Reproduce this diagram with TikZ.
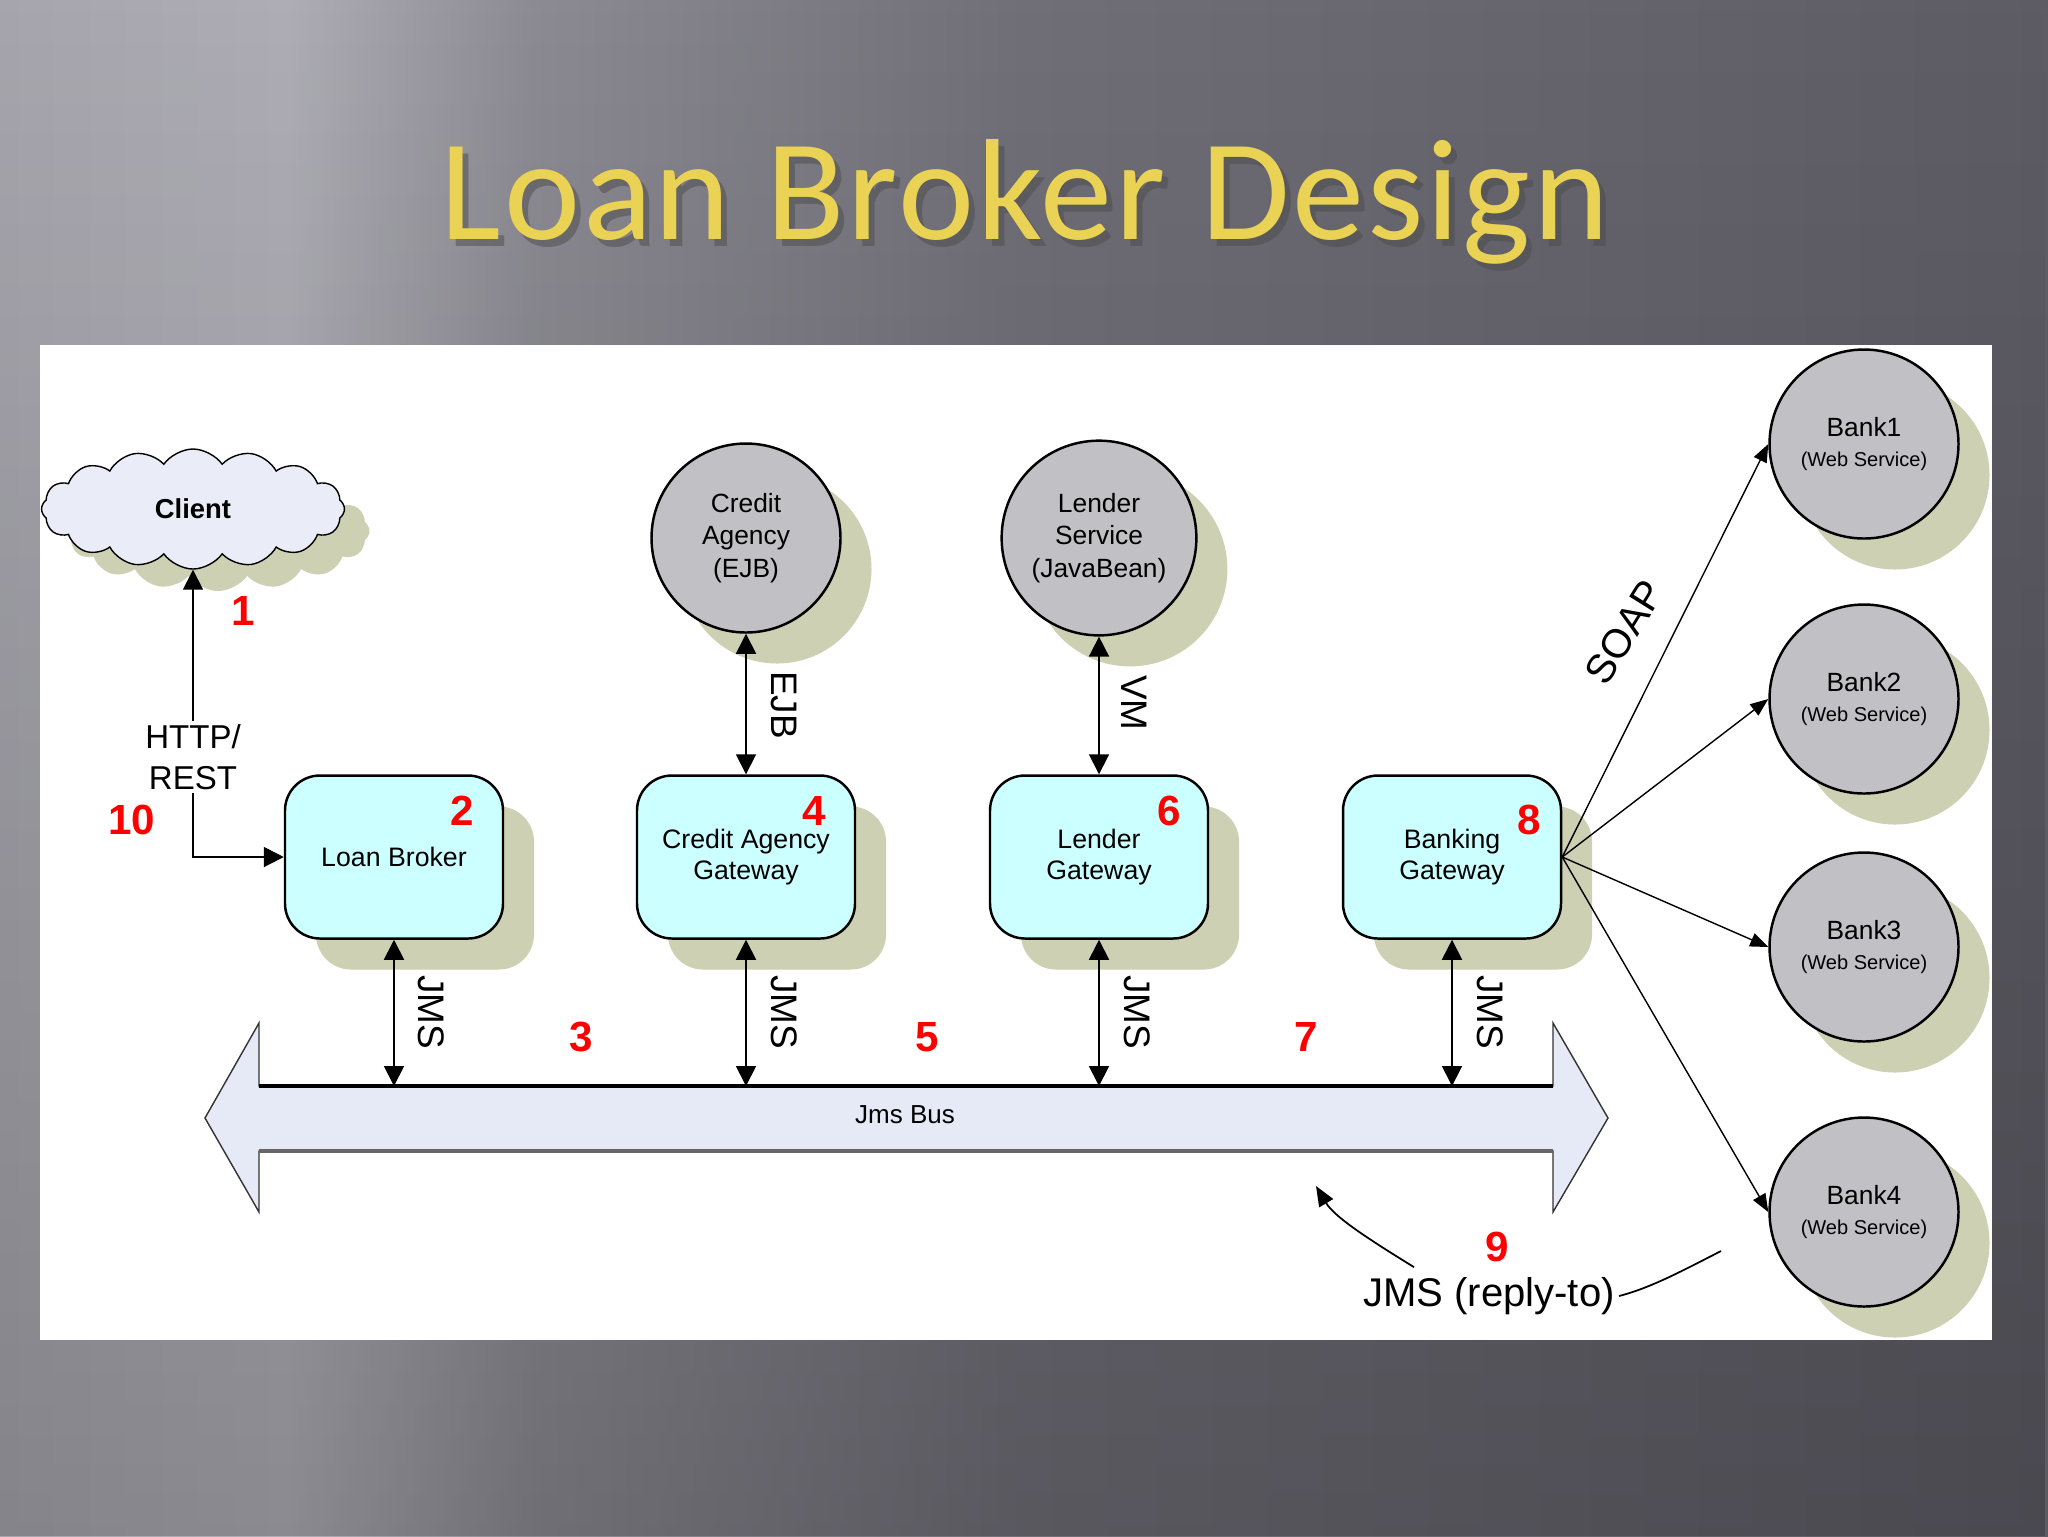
\documentclass[tikz,border=0pt]{standalone}
\usepackage{fontspec}
\setmainfont{Liberation Sans}
\newfontfamily\titlefont[LetterSpace=2]{Carlito}
\usetikzlibrary{arrows.meta,shapes.symbols,shadows,fadings}

\definecolor{boxcyan}{RGB}{204,255,255}
\definecolor{svcgray}{RGB}{192,192,197}
\definecolor{shadowolive}{RGB}{205,208,178}
\definecolor{busfill}{RGB}{230,234,246}
\definecolor{cloudfill}{RGB}{234,236,248}
\definecolor{titlegold}{RGB}{234,210,84}
\definecolor{stepred}{RGB}{255,0,0}
\definecolor{bgA}{RGB}{166,165,173}
\definecolor{bgB}{RGB}{174,173,181}
\definecolor{bgC}{RGB}{140,139,147}
\definecolor{bgD}{RGB}{112,110,119}
\definecolor{bgright}{RGB}{93,91,100}
\pgfdeclarehorizontalshading{slidebg}{100bp}{color(0bp)=(bgA); color(25bp)=(bgA); color(32bp)=(bgB); color(38bp)=(bgC); color(50bp)=(bgD); color(75bp)=(bgright); color(100bp)=(bgright)}

\tikzset{
  sh/.style={drop shadow={shadow xshift=3.1mm, shadow yshift=-3.1mm, fill=shadowolive, opacity=1}},
  gateway/.style={draw, line width=0.7pt, fill=boxcyan, rounded corners=3.5mm,
    minimum width=21.8mm, minimum height=16.3mm, align=center,
    font=\fontsize{7.6}{8.9}\selectfont, sh},
  service/.style={circle, draw, line width=0.7pt, fill=svcgray, minimum size=18.9mm,
    align=center, font=\fontsize{7.5}{9.3}\selectfont, sh},
  num/.style={text=stepred, font=\bfseries\fontsize{12}{12}\selectfont},
  lbl/.style={font=\fontsize{10.5}{12}\selectfont},
  link/.style={line width=0.5pt, {Triangle[length=2mm,width=2mm]}-{Triangle[length=2mm,width=2mm]}},
  soaplink/.style={line width=0.4pt, -{Triangle[length=1.8mm,width=1.4mm]}},
}

\begin{document}
\begin{tikzpicture}[x=0.1mm,y=-0.1mm]
    \useasboundingbox (0,0) rectangle (2048,1536);

    % Fondo
    \shade[shading=slidebg] (0,0) rectangle (2048,1536);
    \fill[black, opacity=0.2, path fading=north] (0,0) rectangle (2048,1536);
    \fill[white] (40,345) rectangle (1992,1340);

    % Titulo
    \node[font=\titlefont\fontsize{41}{41}\selectfont, text=black!70, opacity=0.5, anchor=base] (titleshadow) at (1031,246) {Loan Broker Design};
    \node[font=\titlefont\fontsize{41}{41}\selectfont, text=titlegold, anchor=base] (title) at (1025,239) {Loan Broker Design};

    % Cliente
    \node[cloud, cloud puffs=16, cloud puff arc=110, aspect=2.6, draw, fill=cloudfill, minimum width=30.3mm, minimum height=12mm,
      font=\bfseries\fontsize{7.8}{9}\selectfont, drop shadow={shadow xshift=2.5mm, shadow yshift=-2.2mm, fill=shadowolive, opacity=1}] (client) at (193,509) {Client};

    % Gateways
    \node[gateway] (broker) at (394,857) {Loan Broker};
    \node[gateway] (cagw) at (746,857) {Credit Agency\\Gateway};
    \node[gateway] (lgw) at (1099,857) {Lender\\Gateway};
    \node[gateway] (bgw) at (1452,857) {Banking\\Gateway};

    % Servicios
    \node[service] (cagency) at (746,538) {Credit\\Agency\\(EJB)};
    \node[service] (lender) at (1099,538) {Lender\\Service\\(JavaBean)};
    \foreach \i/\y in {1/444,2/699,3/947,4/1212}
      \node[service] (bank\i) at (1864,\y) {Bank\i\\[-1pt]{\fontsize{5.7}{7}\selectfont(Web Service)}};

    % Bus
    \draw[line width=0.4pt, draw=black!80, fill=busfill] (205,1118) -- (259,1023) -- (259,1086) -- (1553,1086) -- (1553,1023) -- (1608,1118)
      -- (1553,1212) -- (1553,1151) -- (259,1151) -- (259,1212) -- cycle;
    \draw[line width=1pt] (259,1086) -- (1553,1086);
    \draw[line width=1pt, black!60] (259,1151) -- (1553,1151);
    \coordinate (bustop) at (905,1086);
    \node[font=\fontsize{7.4}{9}\selectfont] (busname) at (905,1115) {Jms Bus};

    % Conexiones
    \draw[link] (client) |- (broker);
    \node[fill=white, inner sep=1pt, align=center, font=\fontsize{9.4}{11.5}\selectfont] (http) at (193,757) {HTTP/\\REST};
    \draw[link] (cagency) -- (cagw);
    \draw[link] (lender) -- (lgw);
    \foreach \g in {broker,cagw,lgw,bgw}
      \draw[link] (\g) -- (\g |- bustop);
    \foreach \i in {1,2,3,4}
      \draw[soaplink] (bgw.east) -- (bank\i.west);

    % Etiquetas
    \node[lbl, rotate=-90] (ejb) at (784,705) {EJB};
    \node[lbl, rotate=-90] (vm) at (1134,703) {VM};
    \node[lbl, rotate=-90] (jmsA) at (431,1012) {JMS};
    \node[lbl, rotate=-90] (jmsB) at (784,1012) {JMS};
    \node[lbl, rotate=-90] (jmsC) at (1137,1012) {JMS};
    \node[lbl, rotate=-90] (jmsD) at (1490,1012) {JMS};
    \node[font=\fontsize{11.5}{13}\selectfont, rotate=58, inner sep=1pt] (soap) at (1624,632) {SOAP};

    % Respuesta
    \node[font=\fontsize{11.4}{13}\selectfont, inner sep=1pt] (replyto) at (1489,1296) {JMS (reply-to)};
    \coordinate (replyfrom) at (1721,1251);
    \coordinate (busreply) at (1316,1186);
    \draw[line width=0.5pt] (replyfrom) .. controls (1680,1272) and (1650,1288) .. (replyto.east);
    \draw[line width=0.5pt, -{Triangle[length=2mm,width=1.6mm]}] ([xshift=5.5mm,yshift=0.6mm]replyto.north west) .. controls (1375,1243) and (1335,1218) .. (busreply);

    % Pasos
    \node[num] (n1) at (243,611) {1};
    \node[num] (n2) at (462,811) {2};
    \node[num] (n3) at (581,1037) {3};
    \node[num] (n4) at (814,811) {4};
    \node[num] (n5) at (927,1037) {5};
    \node[num] (n6) at (1169,811) {6};
    \node[num] (n7) at (1306,1037) {7};
    \node[num] (n8) at (1529,820) {8};
    \node[num] (n9) at (1497,1247) {9};
    \node[num] (n10) at (132,820) {10};
\end{tikzpicture}
\end{document}
